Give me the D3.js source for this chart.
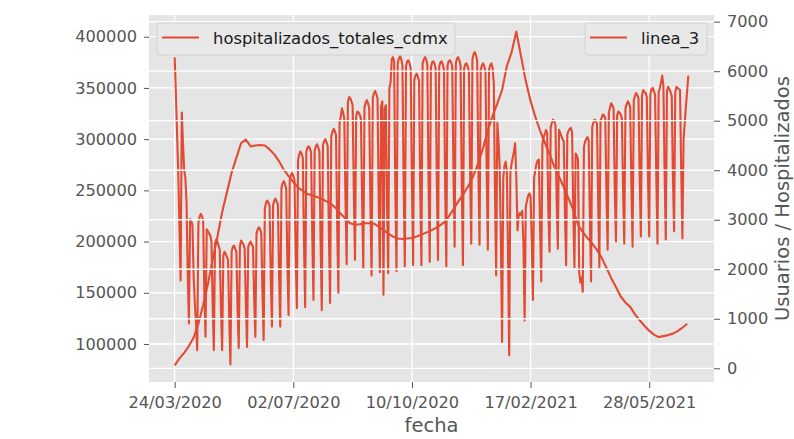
<!DOCTYPE html>
<html>
<head>
<meta charset="utf-8">
<script src="https://cdn.jsdelivr.net/npm/d3@7"></script>
<style>
  html, body { margin: 0; padding: 0; background: #ffffff; }
  svg { display: block; font-family: "DejaVu Sans", sans-serif; }
</style>
</head>
<body>
<svg id="chart" width="794" height="439"></svg>
<script>
// Daily ridership of Metro line 3 (one value per row of the table, index 0 = 24/03/2020)
const linea3 = [
  380000, 345000, 305000, 268000, 215000, 162000,
  326000, 296000, 270000, 262000, 238000, 168000, 120000,
  222000, 220000, 216000, 165000, 140000, 120000, 94000,
  218000, 224000, 227000, 225000, 221000, 150000, 107000,
  212000, 210000, 208000, 206000, 200000, 140000, 94000,
  198000, 202000, 200000, 196000, 192000, 135000, 94000,
  186000, 190000, 188000, 185000, 182000, 125000, 80000,
  190000, 195000, 196000, 193000, 190000, 135000, 96000,
  196000, 201000, 199000, 197000, 193000, 140000, 97000,
  195000, 198000, 200000, 197000, 195000, 145000, 107000,
  208000, 212000, 214000, 212000, 208000, 150000, 104000,
  232000, 238000, 240000, 238000, 235000, 165000, 117000,
  236000, 240000, 242000, 239000, 236000, 168000, 117000,
  252000, 257000, 259000, 256000, 252000, 180000, 128000,
  260000, 265000, 267000, 264000, 260000, 188000, 135000,
  280000, 285000, 288000, 286000, 282000, 200000, 136000,
  288000, 292000, 293000, 291000, 287000, 205000, 143000,
  289000, 293000, 295000, 292000, 288000, 200000, 133000,
  294000, 298000, 300000, 297000, 293000, 207000, 140000,
  303000, 307000, 310000, 308000, 304000, 215000, 150000,
  316000, 322000, 330000, 326000, 320000, 240000, 178000,
  336000, 341000, 340000, 337000, 333000, 250000, 182000,
  322000, 327000, 326000, 324000, 320000, 240000, 174000,
  331000, 336000, 338000, 335000, 330000, 235000, 167000,
  340000, 345000, 347000, 344000, 340000, 240000, 170000,
  332000, 337000, 148000, 330000, 333000, 238000, 169000,
  350000, 355000, 378000, 380000, 376000, 250000, 171000,
  374000, 379000, 381000, 378000, 372000, 258000, 176000,
  371000, 376000, 377000, 374000, 369000, 255000, 177000,
  358000, 362000, 364000, 361000, 357000, 250000, 177000,
  374000, 378000, 380000, 378000, 373000, 258000, 180000,
  370000, 375000, 376000, 374000, 369000, 257000, 182000,
  371000, 375000, 376000, 373000, 368000, 255000, 176000,
  372000, 376000, 377000, 375000, 371000, 268000, 195000,
  374000, 379000, 380000, 377000, 372000, 256000, 177000,
  369000, 373000, 374000, 371000, 367000, 270000, 198000,
  378000, 383000, 385000, 382000, 377000, 272000, 197000,
  368000, 372000, 374000, 371000, 366000, 268000, 192000,
  368000, 372000, 374000, 370000, 355000, 250000, 167000,
  316000, 298000, 272000, 200000, 102000,
  262000, 274000, 278000, 270000, 188000, 89000,
  268000, 276000, 282000, 288000, 296000, 262000, 211000,
  225000, 228000, 226000, 230000, 198000, 123000,
  234000, 240000, 245000, 247000, 244000, 200000, 143000,
  262000, 270000, 276000, 279000, 280000, 215000, 161000,
  295000, 302000, 305000, 309000, 306000, 230000, 190000,
  312000, 316000, 319000, 317000, 314000, 240000, 193000,
  309000, 306000, 303000, 300000, 298000, 228000, 177000,
  305000, 308000, 310000, 311000, 307000, 232000, 175000,
  286000, 284000, 280000, 170000, 160000, 165000, 151000,
  292000, 298000, 300000, 302000, 299000, 225000, 161000,
  312000, 316000, 319000, 318000, 315000, 240000, 175000,
  318000, 321000, 324000, 323000, 320000, 245000, 192000,
  326000, 331000, 335000, 333000, 330000, 252000, 200000,
  323000, 327000, 326000, 324000, 320000, 250000, 198000,
  330000, 334000, 337000, 335000, 331000, 255000, 195000,
  338000, 342000, 345000, 343000, 340000, 262000, 205000,
  343000, 348000, 346000, 345000, 341000, 262000, 205000,
  344000, 349000, 350000, 347000, 343000, 264000, 198000,
  346000, 350000, 355000, 362000, 352000, 268000, 202000,
  347000, 351000, 349000, 346000, 342000, 265000, 210000,
  346000, 351000, 350000, 349000, 348000, 270000, 203000,
  300000, 316000, 332000, 347000, 362000
];

// Total COVID hospitalizations in CDMX, sampled every 4th row of the same table
const hospStep = 4;
const hospitalizados = [
  60, 200, 310, 450, 620, 900, 1280, 1700, 2200, 2650,
  3150, 3550, 3950, 4250, 4550, 4620, 4480, 4500, 4510, 4500,
  4420, 4320, 4180, 4010, 3880, 3760, 3650, 3580, 3520, 3490,
  3460, 3420, 3370, 3320, 3230, 3120, 3020, 2930, 2900, 2910,
  2930, 2930, 2920, 2860, 2790, 2720, 2660, 2620, 2610, 2620,
  2630, 2660, 2700, 2740, 2780, 2830, 2890, 2960, 3100, 3250,
  3400, 3540, 3700, 3900, 4150, 4450, 4800, 5100, 5350, 5620,
  6100, 6380, 6800, 6300, 5800, 5400, 5080, 4800, 4560, 4330,
  4080, 3870, 3660, 3430, 3200, 2900, 2750, 2630, 2520, 2390,
  2230, 2030, 1820, 1640, 1450, 1330, 1240, 1090, 970, 860,
  760, 680, 630, 650, 670, 700, 750, 820, 900
];

// Date labels shown on the x axis, at their row positions
const fechaTickIdx = [0, 100, 200, 300, 400];
const fechaTickLabels = ["24/03/2020", "02/07/2020", "10/10/2020", "17/02/2021", "28/05/2021"];

const leftTicks = [100000, 150000, 200000, 250000, 300000, 350000, 400000];
const rightTicks = [0, 1000, 2000, 3000, 4000, 5000, 6000, 7000];

const seriesNames = ["hospitalizados_totales_cdmx", "linea_3"];
const xLabel = "fecha";
const yLabelRight = "Usuarios / Hospitalizados";

// ---- layout & style ----
const plot = { left: 149, right: 714, top: 15, bottom: 382 };
const lineColor = "#E24A33";
const tickColor = "#555555";
const tickFont = 16.2;
const labelFont = 19.5;

const svg = d3.select("#chart");

const n = linea3.length;
const pad = (n - 1) * 0.05;
const x = d3.scaleLinear().domain([-pad, (n - 1) + pad]).range([plot.left, plot.right]);
const yL = d3.scaleLinear().domain([62900, 421200]).range([plot.bottom, plot.top]);
const yR = d3.scaleLinear().domain([-277, 7135]).range([plot.bottom, plot.top]);

svg.append("defs").append("clipPath").attr("id", "plotclip")
  .append("rect")
  .attr("x", plot.left).attr("y", plot.top)
  .attr("width", plot.right - plot.left).attr("height", plot.bottom - plot.top);

// background
svg.append("rect")
  .attr("x", plot.left).attr("y", plot.top)
  .attr("width", plot.right - plot.left).attr("height", plot.bottom - plot.top)
  .attr("fill", "#E5E5E5");

// grid belonging to the left axis (under the ridership line)
const gridLow = svg.append("g").attr("stroke", "#ffffff").attr("stroke-width", 1.3);
gridLow.selectAll("line.v").data(fechaTickIdx).join("line")
  .attr("x1", d => x(d)).attr("x2", d => x(d))
  .attr("y1", plot.top).attr("y2", plot.bottom);
gridLow.selectAll("line.h").data(leftTicks).join("line")
  .attr("x1", plot.left).attr("x2", plot.right)
  .attr("y1", d => yL(d)).attr("y2", d => yL(d));

const g = svg.append("g").attr("clip-path", "url(#plotclip)");

// ridership line
g.append("path")
  .datum(linea3)
  .attr("fill", "none")
  .attr("stroke", lineColor)
  .attr("stroke-width", 2.1)
  .attr("stroke-linejoin", "round")
  .attr("d", d3.line().x((d, i) => x(i)).y(d => yL(d)));

// grid of the right axis, drawn over the ridership line
const gridHigh = svg.append("g").attr("stroke", "#ffffff").attr("stroke-width", 1.3);
gridHigh.selectAll("line").data(rightTicks).join("line")
  .attr("x1", plot.left).attr("x2", plot.right)
  .attr("y1", d => yR(d)).attr("y2", d => yR(d));

// hospitalizations line
g.append("path")
  .datum(hospitalizados)
  .attr("fill", "none")
  .attr("stroke", lineColor)
  .attr("stroke-width", 2.1)
  .attr("stroke-linejoin", "round")
  .attr("d", d3.line().x((d, i) => x(i * hospStep)).y(d => yR(d)));

// ---- axes ----
function styleAxis(sel) {
  sel.select(".domain").remove();
  sel.selectAll(".tick line").attr("stroke", tickColor).attr("stroke-width", 1);
  sel.selectAll(".tick text")
    .attr("fill", tickColor)
    .style("font-size", tickFont + "px")
    .style("font-family", "'DejaVu Sans', sans-serif");
}

svg.append("g")
  .attr("transform", `translate(0,${plot.bottom})`)
  .call(d3.axisBottom(x).tickValues(fechaTickIdx)
    .tickFormat((d, i) => fechaTickLabels[i]).tickSize(6).tickPadding(8))
  .call(styleAxis);

svg.append("g")
  .attr("transform", `translate(${plot.left},0)`)
  .call(d3.axisLeft(yL).tickValues(leftTicks).tickFormat(d3.format("d"))
    .tickSize(5).tickPadding(7))
  .call(styleAxis);

svg.append("g")
  .attr("transform", `translate(${plot.right},0)`)
  .call(d3.axisRight(yR).tickValues(rightTicks).tickFormat(d3.format("d"))
    .tickSize(6).tickPadding(7))
  .call(styleAxis);

// axis labels
svg.append("text")
  .attr("x", (plot.left + plot.right) / 2).attr("y", 432)
  .attr("text-anchor", "middle")
  .attr("fill", tickColor)
  .style("font-size", labelFont + "px")
  .text(xLabel);

svg.append("text")
  .attr("transform", `translate(789,${(plot.top + plot.bottom) / 2}) rotate(-90)`)
  .attr("text-anchor", "middle")
  .attr("fill", tickColor)
  .style("font-size", labelFont + "px")
  .text(yLabelRight);

// ---- legends ----
function legend(x0, x1, label) {
  const lg = svg.append("g");
  lg.append("rect")
    .attr("x", x0).attr("y", 23).attr("width", x1 - x0).attr("height", 32)
    .attr("rx", 3.5)
    .attr("fill", "#E8E8E8").attr("fill-opacity", 0.9)
    .attr("stroke", "#D2D2D2").attr("stroke-width", 1);
  lg.append("line")
    .attr("x1", x0 + 5).attr("x2", x0 + 42)
    .attr("y1", 37.5).attr("y2", 37.5)
    .attr("stroke", lineColor).attr("stroke-width", 2.1);
  lg.append("text")
    .attr("x", x0 + 56).attr("y", 43.5)
    .attr("fill", "#1a1a1a")
    .style("font-size", "16.4px")
    .text(label);
}
legend(157, 455, seriesNames[0]);
legend(585, 707, seriesNames[1]);
</script>
</body>
</html>
